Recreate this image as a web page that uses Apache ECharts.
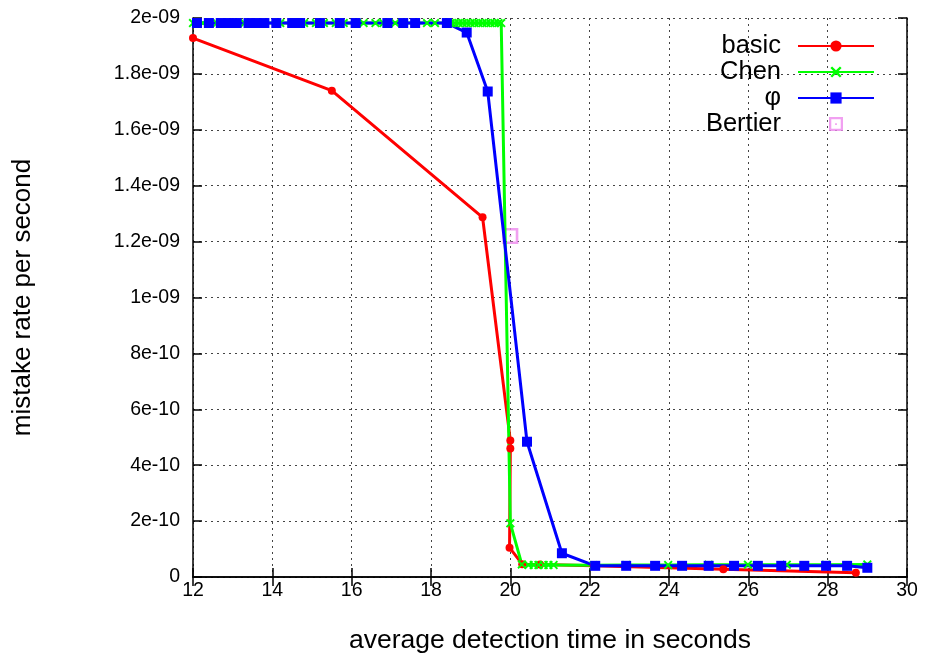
<!DOCTYPE html>
<html>
<head>
<meta charset="utf-8">
<script src="https://cdn.jsdelivr.net/npm/echarts@6/dist/echarts.min.js"></script>
<style>html,body{margin:0;padding:0;background:#fff}#c{width:928px;height:661px}</style>
</head>
<body>
<div id="c"></div>
<script>
// ---- data ----
const basicX = [12.0, 15.5, 19.3, 20.0, 20.0, 19.98, 20.3, 20.75, 22.1, 25.37, 28.71];
const basicY = [1.928e-9, 1.740e-9, 1.287e-9, 4.88e-10, 4.60e-10, 1.05e-10, 4.6e-11, 4.5e-11, 4.0e-11, 2.8e-11, 1.5e-11];

const chenX = [12.0, 12.25, 12.6, 12.9, 13.3, 13.5, 13.8, 14.2, 14.5, 14.8, 15.1, 15.3, 15.6, 15.8, 16.1, 16.3, 16.6, 16.8, 17.1, 17.3, 17.6, 17.9, 18.1, 18.5, 18.6, 18.7, 18.8, 18.9, 19.0, 19.1, 19.2, 19.3, 19.4, 19.5, 19.6, 19.7, 19.77,
  20.0, 20.29, 20.46, 20.59, 20.71, 20.84, 20.96, 21.09, 22.1, 22.92, 23.98, 25.0, 25.99, 26.97, 27.96, 29.0];
const chenY = [1.982e-9, 1.982e-9, 1.982e-9, 1.982e-9, 1.982e-9, 1.982e-9, 1.982e-9, 1.982e-9, 1.982e-9, 1.982e-9, 1.982e-9, 1.982e-9, 1.982e-9, 1.982e-9, 1.982e-9, 1.982e-9, 1.982e-9, 1.982e-9, 1.982e-9, 1.982e-9, 1.982e-9, 1.982e-9, 1.982e-9, 1.982e-9, 1.982e-9, 1.982e-9, 1.982e-9, 1.982e-9, 1.982e-9, 1.982e-9, 1.982e-9, 1.982e-9, 1.982e-9, 1.982e-9, 1.982e-9, 1.982e-9, 1.982e-9,
  1.92e-10, 4.5e-11, 4.3e-11, 4.3e-11, 4.3e-11, 4.3e-11, 4.3e-11, 4.3e-11, 4.2e-11, 4.3e-11, 4.3e-11, 4.4e-11, 4.4e-11, 4.4e-11, 4.4e-11, 4.5e-11];

const phiX = [12.1, 12.4, 12.7, 12.9, 13.1, 13.4, 13.6, 13.8, 14.1, 14.5, 14.6, 14.7, 15.2, 15.7, 16.1, 16.9, 17.3, 17.6, 18.4,
  18.9, 19.43, 20.42, 21.3, 22.14, 22.92, 23.65, 24.33, 25.0, 25.64, 26.24, 26.83, 27.41, 27.96, 28.49, 29.0];
const phiY = [1.982e-9, 1.982e-9, 1.982e-9, 1.982e-9, 1.982e-9, 1.982e-9, 1.982e-9, 1.982e-9, 1.982e-9, 1.982e-9, 1.982e-9, 1.982e-9, 1.982e-9, 1.982e-9, 1.982e-9, 1.982e-9, 1.982e-9, 1.982e-9, 1.982e-9,
  1.948e-9, 1.737e-9, 4.84e-10, 8.5e-11, 4.0e-11, 4.0e-11, 4.0e-11, 4.0e-11, 4.0e-11, 4.0e-11, 4.0e-11, 4.0e-11, 4.0e-11, 4.0e-11, 4.0e-11, 3.3e-11];

const bertierX = [20.0];
const bertierY = [1.22e-9];

const seriesNames = ['basic', 'Chen', 'φ', 'Bertier'];
const xTickLabels = ['12','14','16','18','20','22','24','26','28','30'];
const yTickLabels = ['0','2e-10','4e-10','6e-10','8e-10','1e-09','1.2e-09','1.4e-09','1.6e-09','1.8e-09','2e-09'];
const xTitle = 'average detection time in seconds';
const yTitle = 'mistake rate per second';

// ---- chart ----
const zip = (xs, ys) => xs.map((x, i) => [x, ys[i]]);
const FONT = 'Liberation Sans, Arial, sans-serif';
const crossPath = 'path://M0,1.5L1.5,0L5,3.5L8.5,0L10,1.5L6.5,5L10,8.5L8.5,10L5,6.5L1.5,10L0,8.5L3.5,5Z';
const bertierPath = 'path://M0,0H16V16H0Z M2.6,2.6V13.4H13.4V2.6Z M7,7H9V9H7Z';

const axisLineStyle = { color: '#000', width: 1.5 };
const tickStyle = { color: '#000', width: 1.5 };
const gridLineStyle = { color: '#444', type: [2, 4], width: 1 };

const chart = echarts.init(document.getElementById('c'), null, { renderer: 'canvas' });
chart.setOption({
  animation: false,
  backgroundColor: '#fff',
  grid: { left: 193, right: 21, top: 18, bottom: 84, containLabel: false },
  legend: {
    orient: 'vertical',
    right: 48,
    top: 28,
    align: 'right',
    itemWidth: 76,
    itemHeight: 14,
    itemGap: 0,
    selectedMode: false,
    data: seriesNames,
    formatter: '{t|{name}}',
    textStyle: {
      fontFamily: FONT, fontSize: 25.5, color: '#000',
      rich: { t: { fontFamily: FONT, fontSize: 25.5, color: '#000', padding: [0, 12, 0, 0] } }
    }
  },
  xAxis: [{
    type: 'value', min: 12, max: 30, interval: 2, position: 'bottom',
    name: xTitle, nameLocation: 'middle', nameGap: 50,
    nameTextStyle: { fontFamily: FONT, fontSize: 26.5, color: '#000' },
    axisLine: { show: true, lineStyle: axisLineStyle },
    axisTick: { show: true, inside: true, length: 9, lineStyle: tickStyle },
    axisLabel: { fontFamily: FONT, fontSize: 19.5, color: '#000', margin: 4,
      formatter: v => xTickLabels[Math.round((v - 12) / 2)] },
    splitLine: { show: true, lineStyle: gridLineStyle }
  }, {
    type: 'value', min: 12, max: 30, interval: 2, position: 'top',
    axisLine: { show: true, lineStyle: axisLineStyle },
    axisTick: { show: true, inside: true, length: 9, lineStyle: tickStyle },
    axisLabel: { show: false }, splitLine: { show: false }
  }],
  yAxis: [{
    type: 'value', min: 0, max: 2e-9, interval: 2e-10, position: 'left',
    name: yTitle, nameLocation: 'middle', nameGap: 157, nameRotate: 90,
    nameTextStyle: { fontFamily: FONT, fontSize: 26, color: '#000' },
    axisLine: { show: true, lineStyle: axisLineStyle },
    axisTick: { show: true, inside: true, length: 9, lineStyle: tickStyle },
    axisLabel: { fontFamily: FONT, fontSize: 19.5, color: '#000', margin: 13,
      formatter: v => yTickLabels[Math.round(v / 2e-10)] },
    splitLine: { show: true, lineStyle: gridLineStyle }
  }, {
    type: 'value', min: 0, max: 2e-9, interval: 2e-10, position: 'right',
    axisLine: { show: true, lineStyle: axisLineStyle },
    axisTick: { show: true, inside: true, length: 9, lineStyle: tickStyle },
    axisLabel: { show: false }, splitLine: { show: false }
  }],
  series: [{
    name: seriesNames[0], type: 'line', xAxisIndex: 0, yAxisIndex: 0,
    data: zip(basicX, basicY),
    symbol: 'circle', symbolSize: 8, showSymbol: true,
    itemStyle: { color: '#ff0000' },
    lineStyle: { color: '#ff0000', width: 3 }
  }, {
    name: seriesNames[1], type: 'line', xAxisIndex: 0, yAxisIndex: 0,
    data: zip(chenX, chenY),
    symbol: crossPath, symbolSize: 9, showSymbol: true,
    itemStyle: { color: '#00ff00' },
    lineStyle: { color: '#00ff00', width: 3 }
  }, {
    name: seriesNames[2], type: 'line', xAxisIndex: 0, yAxisIndex: 0,
    data: zip(phiX, phiY),
    symbol: 'rect', symbolSize: 10, showSymbol: true,
    itemStyle: { color: '#0000ff' },
    lineStyle: { color: '#0000ff', width: 3 }
  }, {
    name: seriesNames[3], type: 'scatter', xAxisIndex: 0, yAxisIndex: 0,
    data: zip(bertierX, bertierY),
    symbol: bertierPath, symbolSize: 16,
    itemStyle: { color: '#ee88ee' }
  }]
});
</script>
</body>
</html>
